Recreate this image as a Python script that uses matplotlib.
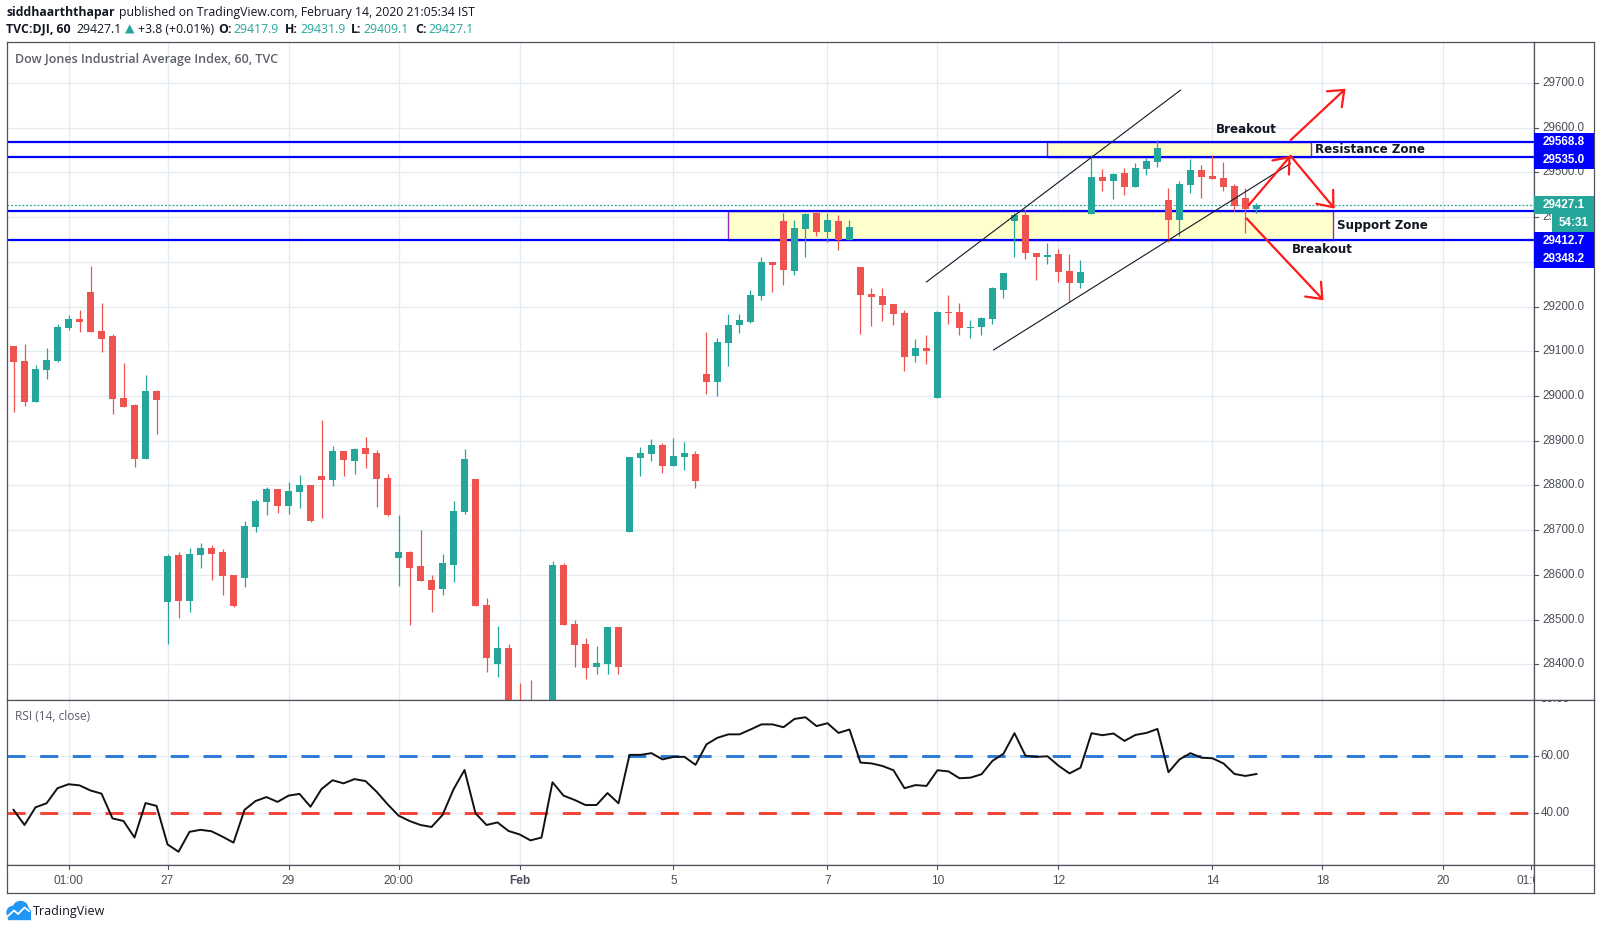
import matplotlib
matplotlib.use("Agg")
import matplotlib.pyplot as plt
from matplotlib.patches import Rectangle, Circle
from matplotlib.transforms import Bbox, TransformedBbox
import numpy as np

W, H = 1601, 930

# hourly bars of TVC:DJI, 24 Jan - 14 Feb 2020
opens = [29112, 29078, 28987, 29059, 29078, 29153, 29172, 29233, 29145, 29134,
         28996, 28980, 28860, 29011, 28540, 28644, 28542, 28644, 28660, 28651,
         28600, 28594, 28706, 28764, 28792, 28755, 28786, 28801, 28821, 28812,
         28877, 28855, 28884, 28873, 28817, 28638, 28651, 28620, 28589, 28568,
         28622, 28741, 28814, 28533, 28401, 28437, 28300, 28275, 28245, 28265,
         28622, 28490, 28445, 28394, 28401, 28483, 28696, 28861, 28870, 28890,
         28843, 28864, 28870, 29049, 29031, 29119, 29159, 29165, 29224, 29300,
         29391, 29280, 29373, 29409, 29367, 29391, 29349, 29288, 29228, 29224,
         29206, 29186, 29089, 29107, 28996, 29188, 29188, 29151, 29154, 29172,
         29237, 29391, 29405, 29320, 29311, 29318, 29280, 29253, 29407, 29490,
         29481, 29499, 29467, 29508, 29523, 29438, 29394, 29472, 29505, 29492,
         29487, 29470, 29443, 29417.9]
highs = [29112, 29116, 29069, 29107, 29161, 29181, 29192, 29291, 29208, 29139,
         29074, 28982, 29047, 29013, 28647, 28651, 28660, 28671, 28667, 28658,
         28600, 28720, 28770, 28797, 28792, 28808, 28823, 28801, 28946, 28888,
         28877, 28884, 28908, 28879, 28826, 28734, 28653, 28700, 28600, 28647,
         28765, 28881, 28814, 28548, 28486, 28445, 28358, 28365, 28310, 28631,
         28627, 28499, 28459, 28441, 28483, 28483, 28864, 28886, 28904, 28895,
         28906, 28897, 28877, 29143, 29130, 29183, 29183, 29237, 29311, 29300,
         29409, 29394, 29409, 29411, 29409, 29405, 29394, 29288, 29241, 29241,
         29206, 29192, 29127, 29136, 29190, 29226, 29208, 29170, 29177, 29244,
         29275, 29409, 29418, 29320, 29342, 29329, 29318, 29304, 29539, 29508,
         29499, 29510, 29521, 29532, 29572, 29465, 29481, 29530, 29517, 29539,
         29523, 29474, 29465, 29431.9]
lows = [28964, 28978, 28987, 29039, 29077, 29148, 29144, 29144, 29099, 28960,
        28976, 28842, 28860, 28916, 28445, 28504, 28517, 28615, 28589, 28555,
        28528, 28573, 28696, 28734, 28738, 28736, 28750, 28718, 28727, 28799,
        28821, 28826, 28839, 28752, 28732, 28575, 28488, 28587, 28517, 28555,
        28584, 28736, 28530, 28383, 28372, 28250, 28230, 28225, 28215, 28250,
        28489, 28394, 28367, 28378, 28378, 28378, 28696, 28821, 28855, 28828,
        28843, 28835, 28794, 29005, 29000, 29067, 29141, 29163, 29215, 29233,
        29248, 29271, 29311, 29358, 29344, 29326, 29349, 29139, 29157, 29168,
        29159, 29056, 29076, 29072, 28996, 29161, 29136, 29130, 29136, 29161,
        29219, 29311, 29306, 29259, 29295, 29255, 29210, 29241, 29407, 29458,
        29440, 29449, 29467, 29494, 29512, 29344, 29358, 29454, 29443, 29485,
        29458, 29414, 29364, 29409.1]
closes = [29077, 28987, 29060, 29080, 29154, 29172, 29166, 29144, 29128, 28994,
          28976, 28860, 29011, 28992, 28642, 28542, 28647, 28660, 28647, 28598,
          28530, 28709, 28765, 28792, 28755, 28788, 28801, 28721, 28812, 28877,
          28857, 28881, 28870, 28814, 28734, 28651, 28616, 28587, 28566, 28627,
          28743, 28859, 28530, 28414, 28437, 28300, 28270, 28245, 28265, 28622,
          28489, 28443, 28392, 28403, 28483, 28394, 28864, 28873, 28890, 28843,
          28866, 28873, 28810, 29031, 29121, 29159, 29170, 29226, 29300, 29293,
          29282, 29376, 29407, 29367, 29394, 29349, 29378, 29226, 29221, 29203,
          29183, 29088, 29107, 29101, 29188, 29186, 29151, 29155, 29174, 29241,
          29275, 29405, 29320, 29311, 29315, 29277, 29253, 29277, 29490, 29481,
          29496, 29467, 29510, 29525, 29555, 29394, 29474, 29505, 29490, 29485,
          29467, 29425, 29418, 29427.1]
rsi = [41.2, 35.9, 42.1, 43.5, 48.8, 50.2, 49.8, 48.0, 46.9, 38.2,
       37.3, 31.5, 43.6, 42.6, 29.1, 26.5, 33.5, 34.2, 33.7, 31.8,
       29.7, 41.2, 44.3, 45.7, 44.0, 46.2, 46.8, 42.3, 48.5, 51.6,
       50.5, 52.0, 51.3, 47.6, 43.2, 39.2, 37.3, 35.9, 35.2, 39.4,
       48.4, 55.2, 40.0, 35.9, 36.8, 33.8, 32.6, 30.5, 31.5, 50.9,
       46.2, 44.7, 42.9, 42.9, 47.1, 43.5, 60.5, 60.5, 61.1, 58.9,
       59.8, 59.8, 57.0, 64.2, 66.5, 67.7, 67.7, 69.4, 71.2, 71.2,
       70.2, 73.1, 73.7, 70.6, 71.6, 68.2, 69.4, 57.8, 57.5, 56.6,
       55.1, 48.8, 49.9, 49.6, 55.1, 54.7, 52.3, 52.5, 53.7, 58.4,
       60.9, 68.1, 60.2, 59.8, 60.0, 56.7, 54.0, 56.0, 68.1, 67.4,
       68.0, 65.4, 67.5, 68.2, 69.6, 54.4, 58.9, 61.1, 59.5, 59.3,
       57.5, 53.8, 53.1, 53.8]

tick_pos = [5, 14, 25, 35, 46, 60, 74, 84, 95, 109, 119, 130, 138.0]
tick_lab = ['01:00', '27', '29', '20:00', 'Feb', '5', '7', '10', '12', '14', '18', '20', '01:00']

levels = [29568.8, 29535.0, 29412.7, 29348.2]
last_close = 29427.1
countdown = '54:31'
# zones: x from, x to, low, high
resist_zone = (94.0, 118.0, 29535.0, 29568.8)
support_zone = (65.0, 120.0, 29348.2, 29412.7)
channel_upper = ([83.0, 106.1], [29255, 29684])
channel_lower = ([89.1, 116.1], [29103, 29520])
arrows = [((112.3, 29427), (116.1, 29537)),
          ((116.1, 29572), (121.1, 29687)),
          ((116.1, 29537), (120.1, 29419)),
          ((112.1, 29397), (119.1, 29214))]

GREEN = '#26a69a'
RED = '#ef5350'
BLUE = '#0000ff'
GRID = '#e4ecf2'
FRAME = '#50535e'
TXT = '#4a4e58'
SANS = ['Open Sans', 'DejaVu Sans']


def fx(x):
    return x / W


def fy(y):
    return 1 - y / H


def box(x0, y0, x1, y1):
    return [fx(x0), fy(y1), fx(x1) - fx(x0), fy(y0) - fy(y1)]


fig = plt.figure(figsize=(W / 100, H / 100), dpi=100)
fig.patch.set_facecolor('white')

ax = fig.add_axes(box(6.7, 42, 1534, 700))
axp = fig.add_axes(box(1534, 42, 1594, 700))
axr = fig.add_axes(box(6.7, 700, 1534, 865))
axrs = fig.add_axes(box(1534, 700, 1594, 865))
axt = fig.add_axes(box(6.7, 865, 1534, 893))
axts = fig.add_axes(box(1534, 865, 1594, 893))

xlim = (-0.62, 138.23)
ylim = (28320.3, 29791.5)
rlim = (21.86, 79.75)

for a in (ax, axp, axr, axrs, axt, axts):
    a.set_xticks([])
    a.set_yticks([])
    for sp in a.spines.values():
        sp.set_color(FRAME)
        sp.set_linewidth(0.9)

for a in (ax, axr, axt):
    a.set_xlim(*xlim)
ax.set_ylim(*ylim)
axp.set_ylim(*ylim)
axp.set_xlim(0, 60)
axr.set_ylim(*rlim)
axrs.set_ylim(*rlim)
axrs.set_xlim(0, 60)
axt.set_ylim(28, 0)
axts.set_ylim(28, 0)

# grid
grid_prices = np.arange(28400, 29800, 100)
grid_x = tick_pos[:-1]
ax.hlines(grid_prices, *xlim, color=GRID, lw=1, zorder=0)
ax.vlines(grid_x, *ylim, color=GRID, lw=1, zorder=0)
axr.vlines(grid_x, *rlim, color=GRID, lw=1, zorder=0)
axr.hlines([60, 40], *xlim, color=GRID, lw=1, zorder=0)

# zones
for x0, x1, lo, hi in (resist_zone, support_zone):
    ax.add_patch(Rectangle((x0, lo), x1 - x0, hi - lo, facecolor='#ffffcc',
                           edgecolor='#9c27b0', lw=1.0, zorder=1))

# horizontal levels and last price line
ax.hlines(levels, *xlim, color=BLUE, lw=1.6, zorder=2)
ax.axhline(last_close, color=GREEN, lw=0.9, ls=(0, (1.5, 1.5)), zorder=2)

# candles
idx = np.arange(len(opens))
o = np.array(opens)
c = np.array(closes)
colors = np.where(c >= o, GREEN, RED)
ax.vlines(idx, lows, highs, colors=colors, lw=0.9, zorder=3)
body_lo = np.minimum(o, c)
body_h = np.maximum(np.abs(c - o), 2.5)
ax.bar(idx, body_h, bottom=body_lo, width=0.64, color=colors, lw=0, zorder=4)

# channel
ax.plot(*channel_upper, color='#131722', lw=0.8, zorder=5)
ax.plot(*channel_lower, color='#131722', lw=0.8, zorder=5)

# arrows
for (x0, y0), (x1, y1) in arrows:
    ax.annotate('', xy=(x1, y1), xytext=(x0, y0),
                arrowprops=dict(arrowstyle='->,head_length=0.75,head_width=0.6',
                                color='#ff1a1a', lw=1.6, mutation_scale=13,
                                shrinkA=0, shrinkB=0), zorder=6)

# labels of the drawings
bold = dict(family='DejaVu Sans', fontweight='bold', fontsize=8.6, color='#131722', zorder=7)
ax.text(112.1, 29596, 'Breakout', ha='center', va='center', **bold)
ax.text(119.0, 29328, 'Breakout', ha='center', va='center', **bold)
ax.text(resist_zone[1] + 0.3, (resist_zone[2] + resist_zone[3]) / 2, 'Resistance Zone',
        ha='left', va='center', **bold)
ax.text(support_zone[1] + 0.3, (support_zone[2] + support_zone[3]) / 2, 'Support Zone',
        ha='left', va='center', **bold)

# price tags on the scale, stacked so they do not overlap
ppp = (ylim[1] - ylim[0]) / 658.0
th = 18 * ppp
tags = [(levels[0], BLUE, None), (levels[1], BLUE, None), (last_close, GREEN, None),
        (None, GREEN, countdown), (levels[2], BLUE, None), (levels[3], BLUE, None)]
prev = None
cd_span = None
for val, colr, txt in tags:
    cy = val if prev is None else (prev - th if val is None else min(val, prev - th))
    x0 = 18 if val is None else 0
    axp.add_patch(Rectangle((x0, cy - th / 2), 60 - x0, th, facecolor=colr,
                            edgecolor='none', zorder=5))
    label = txt if txt else f'{val:.1f}'
    axp.text(x0 + 8.5 if val is not None else 25, cy, label, ha='left', va='center',
             fontsize=8.4, fontweight='bold', color='white', family='Liberation Sans', zorder=6)
    if val is None:
        cd_span = (cy - th / 2, cy + th / 2)
    prev = cy

# price scale
for v in grid_prices:
    axp.plot([0, 4], [v, v], color=FRAME, lw=0.8)
    t = axp.text(8.5, v, f'{v:.1f}', ha='left', va='center', fontsize=8.4,
                 color=TXT, family='Liberation Sans', clip_on=True)
    if cd_span and cd_span[0] - th / 2 < v < cd_span[1] + th / 2:
        # partly hidden behind the countdown tag, as on the chart
        t.set_clip_box(TransformedBbox(Bbox([[0, ylim[0]], [17, ylim[1]]]), axp.transData))

# RSI
axr.axhline(60, color='#2a7ad6', lw=2.1, ls=(0, (6.2, 5.0)), zorder=2)
axr.axhline(40, color='#f44336', lw=2.1, ls=(0, (6.2, 5.0)), zorder=2)
axr.plot(idx, rsi, color='#111111', lw=1.4, zorder=3)
for v in (80, 60, 40):
    axrs.plot([0, 4], [v, v], color=FRAME, lw=0.8)
    axrs.text(6.5, v, f'{v:.2f}', ha='left', va='center', fontsize=8.4,
              color=TXT, family='Liberation Sans', clip_on=True)

# time scale
for p, lab in zip(tick_pos, tick_lab):
    axt.plot([p, p], [0, 4], color=FRAME, lw=0.8, clip_on=True)
    axt.text(p, 15.5, lab, ha='center', va='center', fontsize=8.6, color=TXT,
             family='Liberation Sans', fontweight='bold' if lab == 'Feb' else 'normal',
             clip_on=True)

# titles
fig.text(fx(15), fy(60), 'Dow Jones Industrial Average Index, 60, TVC', fontsize=9,
         fontweight='semibold', color='#5d606b', family=SANS, va='center')
fig.text(fx(15), fy(716.5), 'RSI (14, close)', fontsize=8.6, color='#5d606b',
         family=SANS, va='center')

renderer = fig.canvas.get_renderer()


def write_row(pieces, x, y, size=8.8):
    for s, weight, colr, gap in pieces:
        t = fig.text(fx(x), fy(y), s, fontsize=size, fontweight=weight, color=colr,
                     family=SANS, va='center', ha='left')
        x += t.get_window_extent(renderer).width + gap


DARK = '#131722'
write_row([('siddhaarththapar', 'bold', DARK, 4),
           ('published on TradingView.com, February 14, 2020 21:05:34 IST', 'normal', DARK, 0)],
          6, 12.5)
write_row([('TVC:DJI, 60', 'bold', DARK, 6),
           ('29427.1', 'normal', DARK, 3),
           ('▲', 'normal', GREEN, 4),
           ('+3.8 (+0.01%)', 'normal', DARK, 4),
           ('O:', 'bold', DARK, 2), ('29417.9', 'normal', GREEN, 6),
           ('H:', 'bold', DARK, 2), ('29431.9', 'normal', GREEN, 6),
           ('L:', 'bold', DARK, 2), ('29409.1', 'normal', GREEN, 6),
           ('C:', 'bold', DARK, 2), ('29427.1', 'normal', GREEN, 0)],
          6, 29.3)

# TradingView logo
axl = fig.add_axes(box(5, 899, 31, 922))
axl.set_xlim(0, 26)
axl.set_ylim(23, 0)
axl.axis('off')
for cx, cy, r in ((8, 13.5, 6), (15.5, 10, 7.5), (21, 14.5, 5)):
    axl.add_patch(Circle((cx, cy), r, color='#2196f3'))
axl.add_patch(Rectangle((2.5, 14), 23, 5.5, color='#2196f3'))
axl.plot([3, 9, 13, 19.5, 24], [17, 11.5, 15, 8.5, 12], color='white', lw=1.3)
fig.text(fx(33), fy(911), 'TradingView', fontsize=9, color=DARK, family=SANS, va='center')

fig.savefig('out.png', dpi=100)
